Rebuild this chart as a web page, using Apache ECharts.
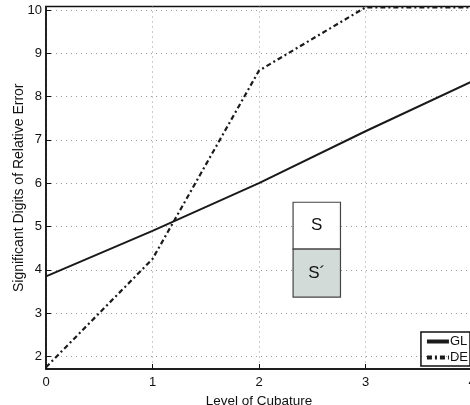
<!DOCTYPE html>
<html lang="en">
<head>
    <meta charset="UTF-8">
    <script src="https://cdn.jsdelivr.net/npm/echarts@6/dist/echarts.min.js"></script>
    <title>Significant digits</title>
    <style>body{margin:0;}</style>
</head>
<body>
<div id="chart" style="width:470px;height:405px;"></div>
<script type="text/javascript">
    // data
    var levels = [0, 1, 2, 3, 4];
    var glValues = [3.85, 4.9, 6.0, 7.2, 8.35];
    var deValues = [1.75, 4.25, 8.6, 10.06, 10.06];
    var yTicks = [2, 3, 4, 5, 6, 7, 8, 9, 10];
    // S / S' boxes, data coords [x0, x1] and [yTop, yMid, yBottom]
    var boxX = [2.32, 2.765];
    var boxY = [5.56, 4.48, 3.37];

    var chart = echarts.init(document.getElementById('chart'));
    var font = 'Liberation Sans, Arial, sans-serif';
    var gridLine = {show: true, lineStyle: {color: '#999', type: [1, 4], width: 1}};

    var option = {
        animation: false,
        textStyle: {fontFamily: font},
        grid: {left: 46, right: -2, top: 6.5, bottom: 36, outerBoundsMode: 'none', containLabel: false,
               show: true, borderColor: '#111', borderWidth: 1.5},
        xAxis: {
            type: 'value', min: 0, max: 4, interval: 1,
            name: 'Level of Cubature', nameLocation: 'middle', nameGap: 21,
            nameTextStyle: {fontSize: 13.5, color: '#111', fontFamily: font},
            axisLine: {show: true, lineStyle: {color: '#111', width: 1.5}},
            axisTick: {inside: true, length: 5, lineStyle: {color: '#111'}},
            axisLabel: {fontSize: 13, color: '#111', margin: 7, fontFamily: font},
            splitLine: gridLine
        },
        yAxis: {
            type: 'value', min: 1.71, max: 10.08,
            name: 'Significant Digits of Relative Error', nameLocation: 'middle', nameGap: 20,
            nameMoveOverlap: false,
            nameTextStyle: {fontSize: 14, color: '#111', fontFamily: font},
            axisLine: {show: true, lineStyle: {color: '#111', width: 1.5}},
            axisTick: {show: true, inside: true, length: 5, customValues: yTicks, lineStyle: {color: '#111'}},
            axisLabel: {fontSize: 13, color: '#111', margin: 4, customValues: yTicks, fontFamily: font},
            splitLine: gridLine
        },
        legend: {
            orient: 'vertical', right: 0, bottom: 39,
            borderColor: '#111', borderWidth: 1.5, borderRadius: 0,
            padding: [3, 2, 2, 4], itemGap: 3, itemWidth: 22, itemHeight: 12,
            textStyle: {fontSize: 13, color: '#111', fontFamily: font, padding: [0, 0, 0, -4]},
            lineStyle: {width: 4},
            itemStyle: {opacity: 0, borderWidth: 0},
            data: ['GL', 'DE']
        },
        series: [
            {
                name: 'GL', type: 'line', symbol: 'none',
                data: levels.map(function (x, i) { return [x, glValues[i]]; }),
                lineStyle: {color: '#1a1a1a', width: 2},
                itemStyle: {color: '#1a1a1a'},
                markArea: {
                    silent: true,
                    label: {position: 'inside', fontSize: 17, color: '#111', fontFamily: font},
                    data: [
                        [{name: 'S', coord: [boxX[0], boxY[0]], itemStyle: {color: '#fff', borderColor: '#444', borderWidth: 1.2}},
                         {coord: [boxX[1], boxY[1]]}],
                        [{name: 'S\u00B4', coord: [boxX[0], boxY[1]], itemStyle: {color: '#d3dbd8', borderColor: '#444', borderWidth: 1.2}},
                         {coord: [boxX[1], boxY[2]]}]
                    ]
                }
            },
            {
                name: 'DE', type: 'line', symbol: 'none',
                data: levels.map(function (x, i) { return [x, deValues[i]]; }),
                lineStyle: {color: '#1a1a1a', width: 2.2, type: [5, 3, 2, 3]},
                itemStyle: {color: '#1a1a1a'}
            }
        ]
    };
    chart.setOption(option);
</script>
</body>
</html>
